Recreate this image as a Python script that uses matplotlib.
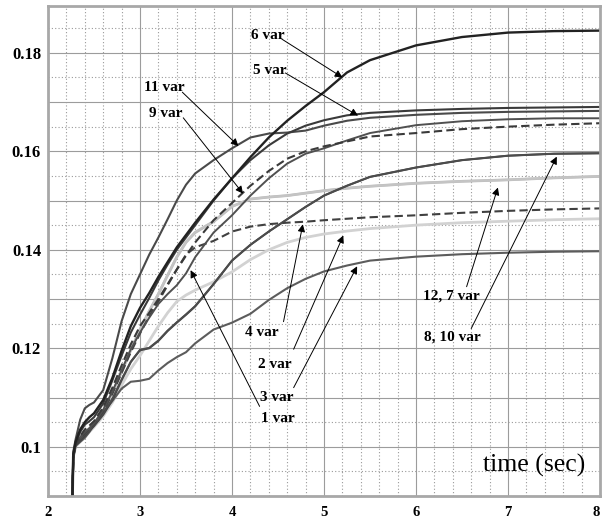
import numpy as np
import matplotlib
matplotlib.use("Agg")
import matplotlib.pyplot as plt
from matplotlib.ticker import MultipleLocator, FuncFormatter

# time axis (sec), shared by all runs
t = [2.26, 2.275, 2.3, 2.35, 2.4, 2.45, 2.5, 2.6, 2.7, 2.8, 2.9, 3.0, 3.1, 3.2, 3.3,
     3.4, 3.5, 3.6, 3.8, 4.0, 4.2, 4.4, 4.6, 4.8, 5.0, 5.25, 5.5, 6.0, 6.5, 7.0, 7.5, 8.0]

var_6 = [0.085, 0.0985, 0.1010, 0.1035, 0.1050, 0.1060, 0.1068, 0.1095, 0.1140, 0.1195, 0.1245,
         0.1282, 0.1312, 0.1345, 0.1375, 0.1405, 0.1430, 0.1455, 0.1502, 0.1545, 0.1588, 0.1628,
         0.1662, 0.1692, 0.1720, 0.1760, 0.1785, 0.1815, 0.1832, 0.1841, 0.1844, 0.1845]
var_5 = [0.085, 0.0983, 0.1008, 0.1030, 0.1045, 0.1052, 0.1060, 0.1088, 0.1135, 0.1185, 0.1232,
         0.1268, 0.1302, 0.1338, 0.1370, 0.1400, 0.1425, 0.1450, 0.1500, 0.1545, 0.1582, 0.1612,
         0.1636, 0.1652, 0.1663, 0.1673, 0.1678, 0.1683, 0.1686, 0.1688, 0.1689, 0.1690]
var_11 = [0.085, 0.0990, 0.1015, 0.1055, 0.1078, 0.1085, 0.1090, 0.1115, 0.1180, 0.1255, 0.1310,
          0.1350, 0.1390, 0.1425, 0.1462, 0.1500, 0.1532, 0.1555, 0.1582, 0.1606, 0.1628, 0.1636,
          0.1638, 0.1642, 0.1652, 0.1662, 0.1668, 0.1674, 0.1678, 0.1680, 0.1681, 0.1682]
var_9 = [0.085, 0.0982, 0.1005, 0.1022, 0.1035, 0.1043, 0.1052, 0.1080, 0.1120, 0.1165, 0.1208,
         0.1245, 0.1272, 0.1300, 0.1330, 0.1360, 0.1388, 0.1415, 0.1460, 0.1495, 0.1530, 0.1560,
         0.1585, 0.1600, 0.1610, 0.1620, 0.1630, 0.1637, 0.1645, 0.1650, 0.1654, 0.1657]
var_1 = [0.085, 0.0981, 0.1005, 0.1020, 0.1030, 0.1038, 0.1048, 0.1075, 0.1112, 0.1155, 0.1198,
         0.1232, 0.1262, 0.1290, 0.1310, 0.1328, 0.1352, 0.1385, 0.1435, 0.1470, 0.1510, 0.1545,
         0.1575, 0.1595, 0.1606, 0.1622, 0.1637, 0.1653, 0.1661, 0.1665, 0.1667, 0.1667]
var_8 = [0.085, 0.0980, 0.1002, 0.1012, 0.1022, 0.1032, 0.1042, 0.1065, 0.1095, 0.1135, 0.1172,
         0.1196, 0.1200, 0.1215, 0.1235, 0.1252, 0.1268, 0.1285, 0.1330, 0.1378, 0.1410, 0.1437,
         0.1462, 0.1487, 0.1510, 0.1530, 0.1548, 0.1567, 0.1582, 0.1591, 0.1595, 0.1596]
var_10 = [0.085, 0.0981, 0.1004, 0.1016, 0.1026, 0.1033, 0.1044, 0.1068, 0.1098, 0.1137, 0.1173,
          0.1197, 0.1201, 0.1216, 0.1236, 0.1253, 0.1269, 0.1286, 0.1331, 0.1378, 0.1410, 0.1437,
          0.1462, 0.1487, 0.1510, 0.1530, 0.1548, 0.1567, 0.1582, 0.1591, 0.1595, 0.1596]
var_4 = [0.085, 0.0980, 0.1003, 0.1018, 0.1028, 0.1036, 0.1046, 0.1072, 0.1108, 0.1150, 0.1192,
         0.1230, 0.1265, 0.1295, 0.1328, 0.1360, 0.1390, 0.1405, 0.1418, 0.1437, 0.1447, 0.1452,
         0.1455, 0.1457, 0.1460, 0.1463, 0.1466, 0.1470, 0.1475, 0.1479, 0.1482, 0.1484]
var_12 = [0.085, 0.0980, 0.1003, 0.1015, 0.1025, 0.1035, 0.1045, 0.1072, 0.1110, 0.1152, 0.1196,
          0.1238, 0.1275, 0.1310, 0.1348, 0.1385, 0.1415, 0.1435, 0.1457, 0.1488, 0.1503, 0.1507,
          0.1510, 0.1515, 0.1520, 0.1525, 0.1529, 0.1535, 0.1539, 0.1542, 0.1546, 0.1549]
var_7 = [0.085, 0.0980, 0.1004, 0.1017, 0.1027, 0.1036, 0.1046, 0.1073, 0.1111, 0.1153, 0.1197,
         0.1239, 0.1276, 0.1311, 0.1349, 0.1386, 0.1416, 0.1436, 0.1458, 0.1488, 0.1503, 0.1507,
         0.1510, 0.1515, 0.1520, 0.1525, 0.1529, 0.1535, 0.1539, 0.1542, 0.1546, 0.1549]
var_2 = [0.085, 0.0979, 0.1000, 0.1010, 0.1020, 0.1030, 0.1040, 0.1062, 0.1090, 0.1125, 0.1158,
         0.1185, 0.1215, 0.1245, 0.1272, 0.1295, 0.1308, 0.1318, 0.1335, 0.1355, 0.1380, 0.1400,
         0.1415, 0.1425, 0.1432, 0.1438, 0.1443, 0.1450, 0.1455, 0.1458, 0.1461, 0.1463]
var_3 = [0.085, 0.0978, 0.1002, 0.1010, 0.1018, 0.1030, 0.1045, 0.1070, 0.1093, 0.1118, 0.1132,
         0.1134, 0.1138, 0.1155, 0.1170, 0.1182, 0.1192, 0.1210, 0.1238, 0.1252, 0.1270, 0.1298,
         0.1322, 0.1341, 0.1356, 0.1368, 0.1378, 0.1386, 0.1391, 0.1394, 0.1396, 0.1397]

x_ticks = [2, 3, 4, 5, 6, 7, 8]
y_ticks_labelled = [0.10, 0.12, 0.14, 0.16, 0.18]

plt.rcParams['font.family'] = ['Liberation Serif', 'DejaVu Serif']

fig = plt.figure(figsize=(6.02, 5.20), dpi=100)
ax = fig.add_axes([48 / 602, 24 / 520, 552 / 602, 490 / 520])

# light curves underneath, dark ones on top
curves = [
    (var_2, dict(color='#d2d2d2', lw=2.0)),
    (var_12, dict(color='#bcbcbc', lw=2.0)),
    (var_7, dict(color='#c4c4c4', lw=1.6)),
    (var_3, dict(color='#5c5c5c', lw=1.5)),
    (var_8, dict(color='#444444', lw=1.5)),
    (var_10, dict(color='#4c4c4c', lw=1.3)),
    (var_4, dict(color='#404040', lw=1.5, ls=(0, (4, 2)))),
    (var_1, dict(color='#505050', lw=1.4)),
    (var_9, dict(color='#3a3a3a', lw=1.5, ls=(0, (4, 2)))),
    (var_11, dict(color='#4a4a4a', lw=1.5)),
    (var_5, dict(color='#3a3a3a', lw=1.5)),
    (var_6, dict(color='#222222', lw=1.7)),
]
for y, style in curves:
    ax.plot(t, y, solid_capstyle='round', solid_joinstyle='round', **style)

ax.set_xlim(2, 8)
ax.set_ylim(0.09, 0.1895)

ax.set_xticks(x_ticks)
ax.xaxis.set_minor_locator(MultipleLocator(0.2))
ax.yaxis.set_major_locator(MultipleLocator(0.01))
ax.yaxis.set_minor_locator(MultipleLocator(0.005))


def ylab(v, pos):
    for lv in y_ticks_labelled:
        if abs(v - lv) < 1e-6:
            return ('%g' % lv)
    return ''


ax.yaxis.set_major_formatter(FuncFormatter(ylab))
ax.xaxis.set_major_formatter(FuncFormatter(lambda v, p: '%d' % v))

ax.grid(which='major', color='#9c9c9c', lw=0.8, ls='-')
ax.grid(which='minor', color='#9a9a9a', lw=0.8, ls=(0, (1, 2)))
ax.set_axisbelow(True)

ax.tick_params(which='both', length=0)
ax.tick_params(axis='x', pad=7, labelsize=10.5)
ax.tick_params(axis='y', pad=5, labelsize=12)
for lab in ax.get_xticklabels() + ax.get_yticklabels():
    lab.set_fontweight('bold')
# last x label sits against the right edge
ax.get_xticklabels()[-1].set_horizontalalignment('right')

for s in ax.spines.values():
    s.set_color('#a8a8a8')
    s.set_linewidth(2)

ax.text(7.84, 0.0963, 'time (sec)', ha='right', va='center', fontsize=18.5)

# labels with arrows pointing at the curves
arrow = dict(arrowstyle='-|>', color='black', lw=0.7, mutation_scale=11,
             shrinkA=0, shrinkB=0)
notes = [
    ('6 var', (4.39, 0.1836), (4.54, 0.1828), var_6, 5.20, -0.0002),
    ('5 var', (4.41, 0.1765), (4.58, 0.1759), var_5, 5.37, -0.0003),
    ('11 var', (3.26, 0.1730), (3.46, 0.1720), var_11, 4.07, -0.0003),
    ('9 var', (3.28, 0.1677), (3.47, 0.1668), var_9, 4.12, -0.0002),
    ('4 var', (4.32, 0.1232), (4.56, 0.1254), var_4, 4.77, -0.0005),
    ('2 var', (4.46, 0.1168), (4.67, 0.1198), var_2, 5.21, -0.0008),
    ('3 var', (4.49, 0.1100), (4.67, 0.1120), var_3, 5.36, -0.0006),
    ('1 var', (4.50, 0.1058), (4.30, 0.1082), var_1, 3.55, -0.0010),
    ('12, 7 var', (6.38, 0.1306), (6.55, 0.1325), var_12, 6.89, -0.0015),
    ('8, 10 var', (6.40, 0.1223), (6.60, 0.1240), var_8, 7.53, -0.0006),
]
for label, pos, start, series, tx, dy in notes:
    tip = (tx, np.interp(tx, t, series) + dy)
    ax.annotate('', xy=tip, xytext=start, arrowprops=arrow)
    ax.text(pos[0], pos[1], label, ha='center', va='center',
            fontsize=11, fontweight='bold')

fig.savefig('out.png', dpi=100)
